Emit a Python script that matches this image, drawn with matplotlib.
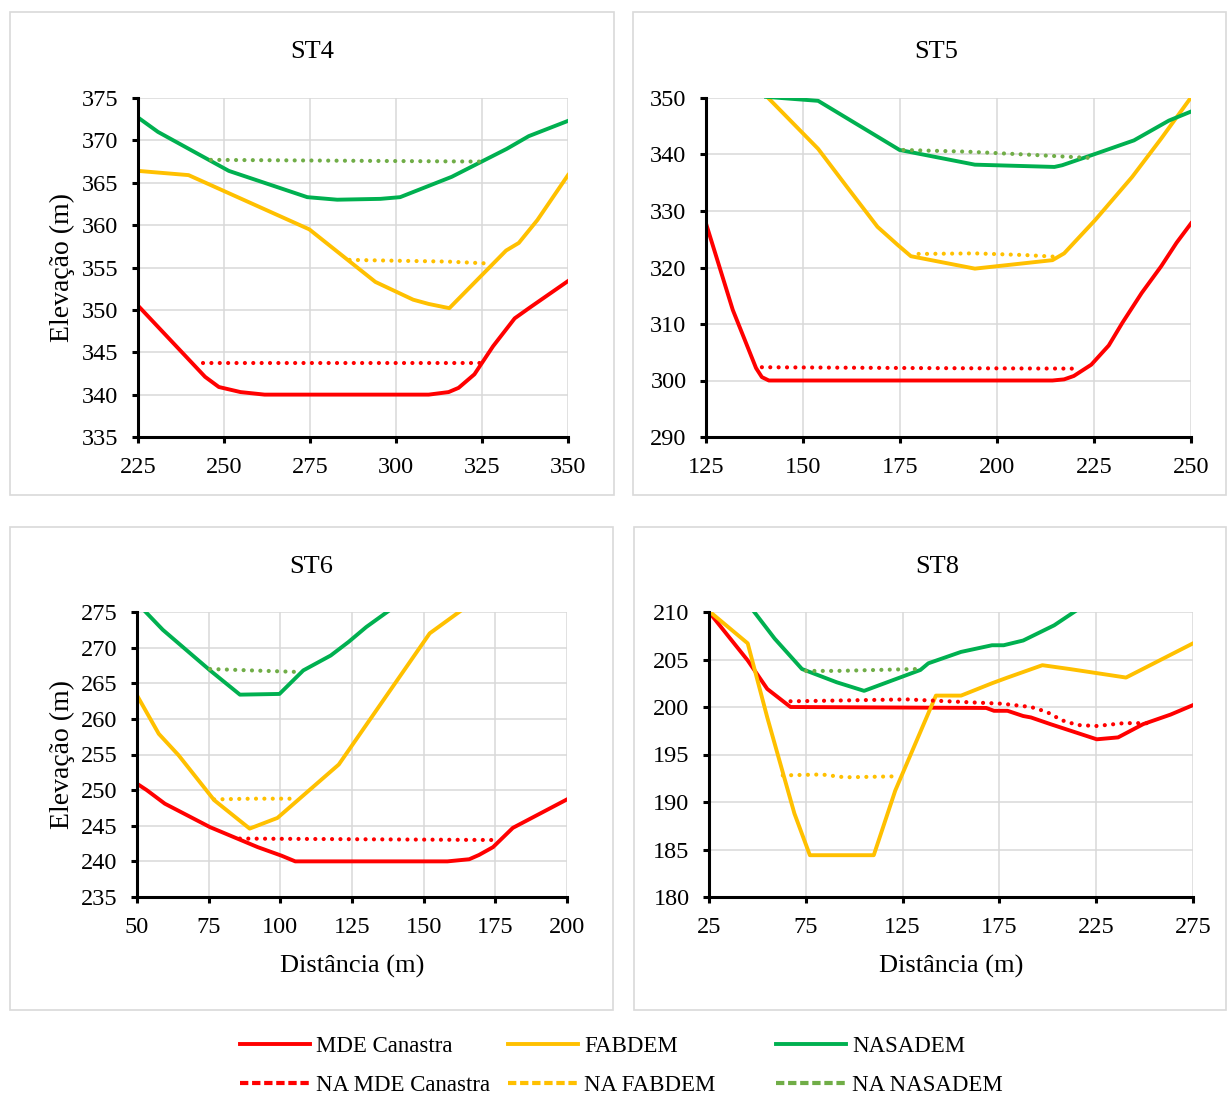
import matplotlib.pyplot as plt
import matplotlib.patches as mpatches
from matplotlib.lines import Line2D

plt.rcParams.update({
    'font.family': ['Liberation Serif', 'DejaVu Serif'],
    'font.size': 17,
    'axes.linewidth': 2.2,
    'xtick.major.width': 2.2,
    'ytick.major.width': 2.2,
    'xtick.major.size': 4,
    'ytick.major.size': 4,
})

RED = '#FF0000'
YELLOW = '#FFC000'
GREEN = '#00B050'
GREEN_NA = '#70AD47'

# ---- ST4 ----
st4_mde_x = [225, 244.5, 248.5, 254.8, 261.8, 309.5, 315.3, 318.2, 322.8, 328.2, 334.5, 339, 350]
st4_mde_y = [350.5, 342.1, 340.9, 340.3, 340.0, 340.0, 340.3, 340.8, 342.4, 345.7, 349.0, 350.3, 353.4]
st4_fab_x = [225, 239.7, 274.8, 294.0, 305, 309.5, 315.5, 332, 335.7, 341.1, 350]
st4_fab_y = [366.4, 365.9, 359.5, 353.3, 351.2, 350.7, 350.2, 357.0, 357.9, 360.6, 365.9]
st4_nas_x = [225, 230.8, 251.4, 274.2, 282.9, 295.5, 301.2, 316.2, 325.4, 332.2, 338.6, 350]
st4_nas_y = [372.7, 371.0, 366.4, 363.3, 363.0, 363.1, 363.3, 365.7, 367.6, 369.0, 370.5, 372.3]
st4_na_mde_x = [244, 285, 325]
st4_na_mde_y = [343.7, 343.7, 343.7]
st4_na_fab_x = [286.5, 300, 315, 325.5]
st4_na_fab_y = [355.9, 355.8, 355.7, 355.5]
st4_na_nas_x = [246.2, 285, 324.4]
st4_na_nas_y = [367.7, 367.6, 367.5]

# ---- ST5 ----
st5_mde_x = [125, 131.9, 137.9, 139.4, 141.2, 214.3, 217.3, 219.8, 224.3, 228.8, 232.3, 237.3, 242.3, 246.3, 250]
st5_mde_y = [327.8, 312.5, 302.2, 300.6, 300.0, 300.0, 300.2, 300.8, 302.8, 306.2, 310.2, 315.5, 320.2, 324.4, 327.8]
st5_fab_x = [140.9, 153.9, 161.4, 169.2, 174.4, 177.8, 194.3, 202.3, 214.3, 217.3, 225.3, 234.8, 242.3, 250]
st5_fab_y = [350.1, 341.0, 334.2, 327.2, 324.0, 322.0, 319.8, 320.4, 321.3, 322.5, 328.4, 336.0, 342.8, 350.1]
st5_nas_x = [140.5, 153.9, 174.9, 194.3, 214.8, 216.8, 225.3, 235.3, 244.3, 250]
st5_nas_y = [350.2, 349.5, 340.8, 338.2, 337.8, 338.1, 340.1, 342.5, 346.0, 347.6]
st5_na_mde_x = [139.4, 180, 221.3]
st5_na_mde_y = [302.35, 302.2, 302.1]
st5_na_fab_x = [179.8, 194.3, 207.3, 215.3]
st5_na_fab_y = [322.4, 322.5, 322.2, 321.9]
st5_na_nas_x = [175.9, 192.4, 207.3, 223.8]
st5_na_nas_y = [340.8, 340.5, 340.0, 339.4]

# ---- ST6 ----
st6_mde_x = [50, 53.4, 59.7, 75.5, 92.1, 100.4, 105.2, 158.3, 165.9, 169.3, 174.2, 181.1, 200]
st6_mde_y = [250.9, 250.0, 248.1, 244.8, 242.0, 240.8, 240.0, 240.0, 240.3, 240.9, 242.0, 244.7, 248.7]
st6_fab_x = [50, 57.6, 64.5, 76.9, 89.3, 99.0, 120.4, 152.1, 162.7]
st6_fab_y = [263.3, 257.9, 254.9, 248.6, 244.6, 246.1, 253.6, 272.0, 275.1]
st6_nas_x = [52.8, 59, 75.5, 85.9, 99.7, 108, 117.6, 123.8, 130, 137.6]
st6_nas_y = [275.1, 272.5, 266.8, 263.4, 263.5, 266.8, 268.9, 270.8, 272.9, 275.1]
st6_na_mde_x = [85.9, 130, 174.2]
st6_na_mde_y = [243.2, 243.1, 243.0]
st6_na_fab_x = [76.9, 90, 104.5]
st6_na_fab_y = [248.7, 248.8, 248.8]
st6_na_nas_x = [75.5, 90, 105.2]
st6_na_nas_y = [267.0, 266.8, 266.6]

# ---- ST8 ----
st8_mde_x = [25, 45, 55.1, 67.1, 168.2, 172.2, 179.2, 187.3, 191.3, 201.3, 225.3, 236.3, 249.3, 263.4, 275]
st8_mde_y = [210, 204.9, 201.9, 200.0, 199.9, 199.6, 199.6, 199.05, 198.9, 198.2, 196.6, 196.8, 198.2, 199.2, 200.2]
st8_fab_x = [25, 45, 55.1, 69.1, 77.1, 110.1, 121.2, 142.2, 155.2, 171.2, 179.2, 197.2, 211.2, 240.4, 275]
st8_fab_y = [210.1, 206.7, 198.9, 188.8, 184.4, 184.4, 191.2, 201.2, 201.2, 202.5, 203.1, 204.4, 204.0, 203.1, 206.7]
st8_nas_x = [48, 58.9, 73.0, 91, 105.1, 134.2, 138.3, 155.2, 171.2, 177.2, 187.3, 203.3, 214.3]
st8_nas_y = [210.1, 207.2, 204.0, 202.6, 201.7, 203.9, 204.6, 205.8, 206.5, 206.5, 207.0, 208.6, 210.1]
st8_na_mde_x = [67.1, 127.2, 159.2, 176.2, 191.3, 199.3, 207.3, 215.4, 225.3, 239.3, 254.3]
st8_na_mde_y = [200.6, 200.8, 200.5, 200.35, 200.0, 199.5, 198.6, 198.1, 198.0, 198.3, 198.3]
st8_na_fab_x = [63.1, 83.1, 95.1, 121.2]
st8_na_fab_y = [192.8, 192.9, 192.6, 192.7]
st8_na_nas_x = [75.1, 91, 132.2]
st8_na_nas_y = [203.8, 203.8, 204.0]

W, H = 1227, 1098
fig = plt.figure(figsize=(W / 100, H / 100), dpi=100)


def px_rect(x0, y0, x1, y1):
    # pixel box (top-left origin) -> figure fraction rect
    return [x0 / W, 1 - y1 / H, (x1 - x0) / W, (y1 - y0) / H]


# light grey frames round each chart
for (x0, y0, x1, y1) in [(10, 12, 614, 495), (633, 12, 1226, 495),
                         (10, 527, 613, 1010), (634, 527, 1226, 1010)]:
    fig.add_artist(mpatches.Rectangle((x0 / W, 1 - y1 / H), (x1 - x0) / W, (y1 - y0) / H,
                                      transform=fig.transFigure, fill=False,
                                      edgecolor='#D9D9D9', linewidth=1.2))

DOT = (0, (0.01, 2.0))

panels = [
    dict(rect=(138, 98, 568, 437), title='ST4', tpos=(312, 50),
         xlim=(225, 350), xticks=range(225, 351, 25), ylim=(335, 375), yticks=range(335, 376, 5),
         mde=(st4_mde_x, st4_mde_y), fab=(st4_fab_x, st4_fab_y), nas=(st4_nas_x, st4_nas_y),
         na_mde=(st4_na_mde_x, st4_na_mde_y), na_fab=(st4_na_fab_x, st4_na_fab_y),
         na_nas=(st4_na_nas_x, st4_na_nas_y), ylab=True, xlab=False),
    dict(rect=(706, 98, 1191, 437), title='ST5', tpos=(936, 50),
         xlim=(125, 250), xticks=range(125, 251, 25), ylim=(290, 350), yticks=range(290, 351, 10),
         mde=(st5_mde_x, st5_mde_y), fab=(st5_fab_x, st5_fab_y), nas=(st5_nas_x, st5_nas_y),
         na_mde=(st5_na_mde_x, st5_na_mde_y), na_fab=(st5_na_fab_x, st5_na_fab_y),
         na_nas=(st5_na_nas_x, st5_na_nas_y), ylab=False, xlab=False),
    dict(rect=(137, 612, 567, 897), title='ST6', tpos=(311, 565),
         xlim=(50, 200), xticks=range(50, 201, 25), ylim=(235, 275), yticks=range(235, 276, 5),
         mde=(st6_mde_x, st6_mde_y), fab=(st6_fab_x, st6_fab_y), nas=(st6_nas_x, st6_nas_y),
         na_mde=(st6_na_mde_x, st6_na_mde_y), na_fab=(st6_na_fab_x, st6_na_fab_y),
         na_nas=(st6_na_nas_x, st6_na_nas_y), ylab=True, xlab=True),
    dict(rect=(709, 612, 1193, 897), title='ST8', tpos=(937, 565),
         xlim=(25, 275), xticks=range(25, 276, 50), ylim=(180, 210), yticks=range(180, 211, 5),
         mde=(st8_mde_x, st8_mde_y), fab=(st8_fab_x, st8_fab_y), nas=(st8_nas_x, st8_nas_y),
         na_mde=(st8_na_mde_x, st8_na_mde_y), na_fab=(st8_na_fab_x, st8_na_fab_y),
         na_nas=(st8_na_nas_x, st8_na_nas_y), ylab=False, xlab=True),
]

for p in panels:
    x0, y0, x1, y1 = p['rect']
    ax = fig.add_axes(px_rect(x0, y0, x1, y1))
    ax.plot(*p['mde'], color=RED, lw=2.8, solid_joinstyle='round')
    ax.plot(*p['fab'], color=YELLOW, lw=2.8, solid_joinstyle='round')
    ax.plot(*p['nas'], color=GREEN, lw=2.8, solid_joinstyle='round')
    ax.plot(*p['na_mde'], color=RED, lw=3.0, linestyle=DOT, dash_capstyle='round')
    ax.plot(*p['na_fab'], color=YELLOW, lw=3.0, linestyle=DOT, dash_capstyle='round')
    ax.plot(*p['na_nas'], color=GREEN_NA, lw=3.0, linestyle=DOT, dash_capstyle='round')

    ax.set_xlim(*p['xlim'])
    ax.set_ylim(*p['ylim'])
    ax.set_xticks(list(p['xticks']))
    ax.set_yticks(list(p['yticks']))
    ax.grid(True, color='#D9D9D9', lw=1.1)
    ax.set_axisbelow(True)
    for s in ('top', 'right'):
        ax.spines[s].set_visible(False)
    ax.tick_params(axis='both', labelsize=17.5, direction='out')
    ax.tick_params(axis='x', pad=10.5)
    ax.tick_params(axis='y', pad=10)

    fig.text(p['tpos'][0] / W, 1 - (p['tpos'][1] + 2) / H, p['title'], fontsize=19,
             ha='center', va='center')
    if p['ylab']:
        fig.text(62 / W, 1 - ((y0 + y1) / 2) / H, 'Elevação (m)', fontsize=20,
                 rotation=90, ha='center', va='center')
    if p['xlab']:
        fig.text(((x0 + x1) / 2) / W, 1 - 966 / H, 'Distância (m)', fontsize=19,
                 ha='center', va='center')

# legend: three columns, solid series on top row and water level below
legend_items = [
    ('MDE Canastra', 'NA MDE Canastra', RED, RED, 240),
    ('FABDEM', 'NA FABDEM', YELLOW, YELLOW, 508),
    ('NASADEM', 'NA NASADEM', GREEN, GREEN_NA, 776),
]
for lab, na_lab, c, c_na, xl in legend_items:
    handles = [Line2D([], [], color=c, lw=2.8),
               Line2D([], [], color=c_na, lw=3.0, linestyle=(0, (2.0, 0.9)))]
    fig.legend(handles, [lab, na_lab], loc='center left',
               bbox_to_anchor=(xl / W, 1 - 1066 / H), frameon=False,
               fontsize=16.5, handlelength=3.05, handletextpad=0.27,
               borderpad=0, borderaxespad=0, labelspacing=0.8)

fig.savefig('out.png', dpi=100)
